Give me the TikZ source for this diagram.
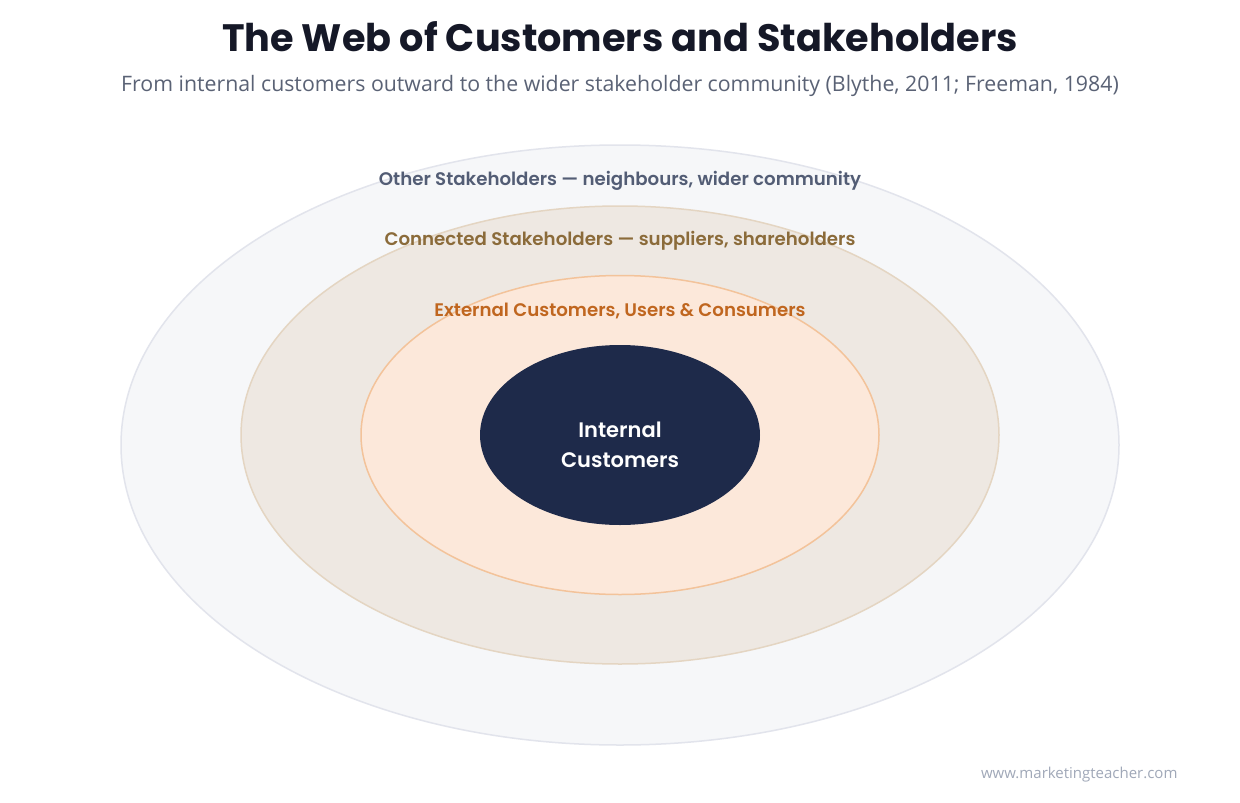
\documentclass[tikz,border=0pt]{standalone}
\usepackage{fontspec}
\setmainfont{Open Sans}
\newfontfamily\headfont{Poppins}[UprightFont=* SemiBold,BoldFont=* Bold]
\usepackage{xcolor}
\usetikzlibrary{shapes.geometric}

\definecolor{titleink}{HTML}{151827}
\definecolor{subink}{HTML}{5A6275}
\definecolor{markink}{HTML}{A0A8B8}
\definecolor{navy}{HTML}{1E2A4A}
\definecolor{outerfill}{HTML}{F6F7F9}
\definecolor{outerline}{HTML}{E2E4EC}
\definecolor{midfill}{HTML}{EEE8E2}
\definecolor{midline}{HTML}{E4D5C2}
\definecolor{innerfill}{HTML}{FCE8DA}
\definecolor{innerline}{HTML}{F3C39A}
\definecolor{otherink}{HTML}{535D75}
\definecolor{connink}{HTML}{8B6B3A}
\definecolor{extink}{HTML}{C0661F}

\begin{document}
\begin{tikzpicture}[
  x=1pt,y=-1pt,
  ring/.style={draw,ellipse,inner sep=0pt,line width=1.5pt},
  ringlabel/.style={font=\headfont\fontsize{18.2}{21}\selectfont,anchor=center},
  core/.style={ellipse,fill=navy,inner sep=0pt,minimum width=280pt,minimum height=180pt}
]
\useasboundingbox[fill=white] (0,0) rectangle (1240,803);

% title block
\node[font=\headfont\bfseries\fontsize{38.2}{44}\selectfont,text=titleink] (title) at (620,37) {The Web of Customers and Stakeholders};
\node[font=\fontsize{21.3}{25}\selectfont,text=subink] (subtitle) at (620,86) {From internal customers outward to the wider stakeholder community (Blythe, 2011; Freeman, 1984)};

% rings, outermost first
\node[ring,fill=outerfill,draw=outerline,minimum width=998pt,minimum height=600pt] (others) at (620,445) {};
\node[ring,fill=midfill,draw=midline,minimum width=758pt,minimum height=458pt] (connected) at (620,435) {};
\node[ring,fill=innerfill,draw=innerline,minimum width=518pt,minimum height=319pt] (external) at (620,435) {};
\node[core] (internal) at (620,435) {};
\node[font=\headfont\fontsize{21}{30}\selectfont,text=white,align=center] (internaltext) at (620,445) {Internal\\Customers};

% ring labels
\node[ringlabel,text=otherink] (otherlabel) at (620,181) {Other Stakeholders — neighbours, wider community};
\node[ringlabel,text=connink] (connlabel) at (620,241) {Connected Stakeholders — suppliers, shareholders};
\node[ringlabel,text=extink] (extlabel) at (620,311) {External Customers, Users \& Consumers};

\node[font=\fontsize{15}{18}\selectfont,text=markink,anchor=east] (mark) at (1181,775) {www.marketingteacher.com};
\end{tikzpicture}
\end{document}
